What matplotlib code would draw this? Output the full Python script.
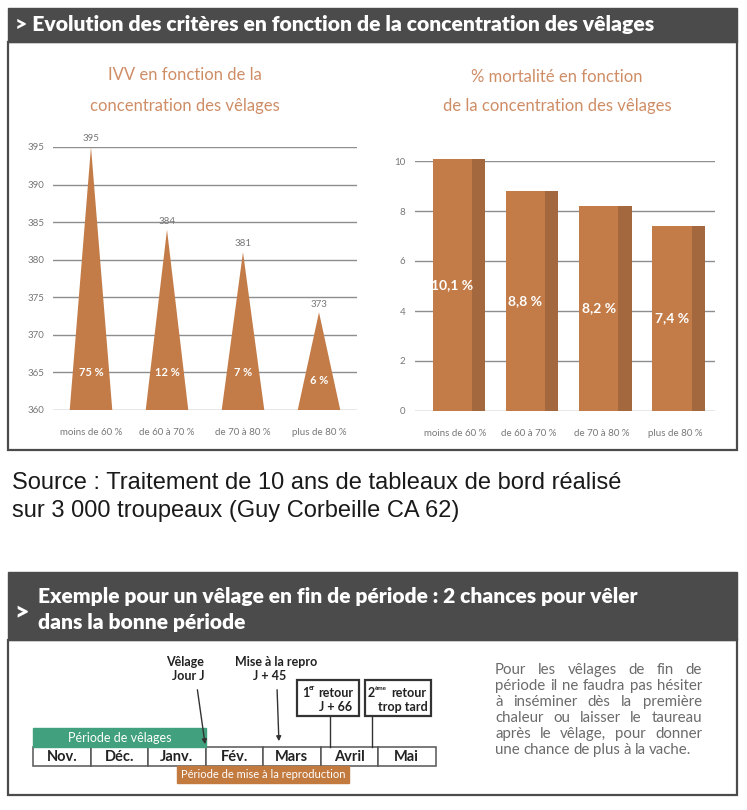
import matplotlib
matplotlib.use("Agg")
import matplotlib.pyplot as plt
from matplotlib import font_manager
from matplotlib.patches import Rectangle

# chart values
categories = ["moins de 60 %", "de 60 à 70 %", "de 70 à 80 %", "plus de 80 %"]
ivv_days = [395, 384, 381, 373]
ivv_share = ["75 %", "12 %", "7 %", "6 %"]
ivv_ticks = [360, 365, 370, 375, 380, 385, 390, 395]
mortality = [10.1, 8.8, 8.2, 7.4]
mortality_ticks = [0, 2, 4, 6, 8, 10]

months = ["Nov.", "Déc.", "Janv.", "Fév.", "Mars", "Avril", "Mai"]
para_lines = [
    "Pour les vêlages de fin de",
    "période il ne faudra pas hésiter",
    "à inséminer dès la première",
    "chaleur ou laisser le taureau",
    "après le vêlage, pour donner",
    "une chance de plus à la vache.",
]


def pick(names):
    for n in names:
        try:
            font_manager.findfont(n, fallback_to_default=False)
            return n
        except ValueError:
            pass
    return "DejaVu Sans"


body = pick(["Lato", "Open Sans", "DejaVu Sans"])
head = body
arial = pick(["Liberation Sans", "DejaVu Sans"])

W, H = 747, 810
fig = plt.figure(figsize=(W / 100, H / 100), dpi=100)
fig.patch.set_facecolor("white")

ov = fig.add_axes([0, 0, 1, 1])
ov.set_xlim(0, W)
ov.set_ylim(H, 0)
ov.axis("off")


def px_axes(x0, y0, x1, y1):
    a = fig.add_axes([x0 / W, 1 - y1 / H, (x1 - x0) / W, (y1 - y0) / H])
    a.patch.set_alpha(0)
    for s in a.spines.values():
        s.set_visible(False)
    return a


dark = "#4b4b4b"
tri_color = "#c37b47"
side_color = "#a4683f"
title_color = "#cf8d66"
grid_color = "#8e8e8e"
tick_color = "#777777"
ink = "#222222"

# ---- top panel
ov.add_patch(Rectangle((8, 8), 729, 34, color=dark))
ov.text(15, 25, "> Evolution des critères en fonction de la concentration des vêlages",
        color="white", fontsize=15.2, fontweight="heavy", family=head, va="center")
ov.add_patch(Rectangle((8, 42), 729, 408, fill=False, edgecolor=dark, lw=1.6))

# left chart: IVV
ov.text(185, 75, "IVV en fonction de la", color=title_color, fontsize=12,
        family=body, ha="center", va="center")
ov.text(185, 106, "concentration des vêlages", color=title_color, fontsize=12,
        family=body, ha="center", va="center")

ax1 = px_axes(53, 147, 357, 410)
ax1.set_xlim(-0.5, 3.5)
ax1.set_ylim(360, 395)
ax1.set_yticks(ivv_ticks)
ax1.yaxis.grid(True, color=grid_color, lw=1)
ax1.set_axisbelow(True)
ax1.set_xticks(range(len(categories)))
ax1.set_xticklabels(categories, family=body, fontsize=7, color=tick_color)
ax1.tick_params(axis="y", length=0, pad=6, labelsize=7, labelcolor=tick_color)
ax1.tick_params(axis="x", length=0, pad=13)
for lab in ax1.get_yticklabels():
    lab.set_family(body)
for i, v in enumerate(ivv_days):
    ax1.fill([i - 0.28, i, i + 0.28], [360, v, 360], color=tri_color, zorder=3, lw=0)
    ax1.text(i, v + 0.5, str(v), ha="center", va="bottom", fontsize=7,
             color=tick_color, family=body)
    ax1.text(i, 360 + min(5, (v - 360) * 0.3), ivv_share[i], ha="center", va="center",
             fontsize=8, color="white", fontweight="bold", family=body, zorder=4)

# right chart: mortality
ov.text(557, 77, "% mortalité en fonction", color=title_color, fontsize=12,
        family=body, ha="center", va="center")
ov.text(557, 106, "de la concentration des vêlages", color=title_color, fontsize=12,
        family=body, ha="center", va="center")

ax2 = px_axes(415, 161, 715, 411)
ax2.set_xlim(-0.55, 3.55)
ax2.set_ylim(0, 10)
ax2.set_yticks(mortality_ticks)
ax2.yaxis.grid(True, color=grid_color, lw=1)
ax2.set_axisbelow(True)
ax2.set_xticks(range(len(categories)))
ax2.set_xticklabels(categories, family=body, fontsize=7, color=tick_color)
ax2.tick_params(axis="y", length=0, pad=7, labelsize=7, labelcolor=tick_color)
ax2.tick_params(axis="x", length=0, pad=13)
for lab in ax2.get_yticklabels():
    lab.set_family(body)
xs = list(range(len(mortality)))
ax2.bar([x - 0.31 for x in xs], mortality, width=0.54, align="edge",
        color=tri_color, zorder=3, clip_on=False)
ax2.bar([x + 0.23 for x in xs], mortality, width=0.18, align="edge",
        color=side_color, zorder=3, clip_on=False)
for x, v in zip(xs, mortality):
    ax2.text(x - 0.04, v / 2, f"{v:.1f} %".replace(".", ","), ha="center", va="center",
             fontsize=10, color="white", fontweight="bold", family=body, zorder=4)

# ---- source
ov.text(12, 483, "Source : Traitement de 10 ans de tableaux de bord réalisé",
        fontsize=17, family=arial, va="center", color="#1a1a1a")
ov.text(12, 511, "sur 3 000 troupeaux (Guy Corbeille CA 62)",
        fontsize=17, family=arial, va="center", color="#1a1a1a")

# ---- bottom panel
ov.add_patch(Rectangle((8, 572), 729, 68, color=dark))
ov.text(14, 612, ">", color="white", fontsize=18, fontweight="heavy", family=head,
        va="center")
ov.text(38, 597, "Exemple pour un vêlage en fin de période : 2 chances pour vêler",
        color="white", fontsize=15.1, fontweight="heavy", family=head, va="center")
ov.text(38, 623, "dans la bonne période", color="white", fontsize=15.1,
        fontweight="heavy", family=head, va="center")
ov.add_patch(Rectangle((8, 640), 729, 155, fill=False, edgecolor=dark, lw=1.6))

# timeline
x0, cell, row_top, row_h = 33, 57.5, 747, 19
for k, m in enumerate(months):
    ov.add_patch(Rectangle((x0 + k * cell, row_top), cell, row_h, facecolor="white",
                           edgecolor="#555555", lw=1.1, zorder=2))
    ov.text(x0 + (k + 0.5) * cell, row_top + row_h / 2 + 0.5, m, ha="center",
            va="center", fontsize=10.5, fontweight="bold", family=body, color=ink,
            zorder=3)

ov.add_patch(Rectangle((x0, 728), 3 * cell, 19, color="#41a07d", zorder=2))
ov.text(x0 + 1.5 * cell, 737.5, "Période de vêlages", ha="center", va="center",
        fontsize=9, color="white", family=body, zorder=3)
ov.add_patch(Rectangle((x0 + 2.5 * cell, 766), 3 * cell, 17, color="#c27a3f", zorder=2))
ov.text(x0 + 4 * cell, 774.5, "Période de mise à la reproduction", ha="center",
        va="center", fontsize=8, color="white", family=body, zorder=3)

arrow = dict(arrowstyle="-|>", color="#333333", lw=1, mutation_scale=7)
ov.text(204, 662, "Vêlage", ha="right", va="center", fontsize=9, fontweight="bold",
        family=body, color=ink)
ov.text(204, 676, "Jour J", ha="right", va="center", fontsize=9, fontweight="bold",
        family=body, color=ink)
ov.annotate("", xy=(x0 + 3 * cell, row_top), xytext=(197, 687), arrowprops=arrow)

ov.text(276, 662, "Mise à la repro", ha="center", va="center", fontsize=9,
        fontweight="bold", family=body, color=ink)
ov.text(270, 676, "J + 45", ha="center", va="center", fontsize=9, fontweight="bold",
        family=body, color=ink)
ov.annotate("", xy=(279, row_top - 3), xytext=(277, 687), arrowprops=arrow)

for bx, bw in [(297, 62), (365, 66)]:
    ov.add_patch(Rectangle((bx, 680), bw, 36, fill=False, edgecolor="#333333", lw=1.6))
ov.text(302, 693, "1", ha="left", va="center", fontsize=9, fontweight="bold",
        family=body, color=ink)
ov.text(308.5, 688, "er", ha="left", va="center", fontsize=5, fontweight="bold",
        family=body, color=ink)
ov.text(353, 693, "retour", ha="right", va="center", fontsize=9, fontweight="bold",
        family=body, color=ink)
ov.text(352, 707, "J + 66", ha="right", va="center", fontsize=9, fontweight="bold",
        family=body, color=ink)
ov.text(368, 693, "2", ha="left", va="center", fontsize=9, fontweight="bold",
        family=body, color=ink)
ov.text(374.5, 688, "ème", ha="left", va="center", fontsize=4.5, fontweight="bold",
        family=body, color=ink)
ov.text(426, 693, "retour", ha="right", va="center", fontsize=9, fontweight="bold",
        family=body, color=ink)
ov.text(428, 707, "trop tard", ha="right", va="center", fontsize=9, fontweight="bold",
        family=body, color=ink)
ov.plot([330, 330], [716, row_top], color="#333333", lw=1)
ov.plot([372, 372], [716, row_top], color="#333333", lw=1)

# justified paragraph
renderer = fig.canvas.get_renderer()
para_x0, para_x1, para_top, para_step = 495, 702, 670, 16
for k, line in enumerate(para_lines):
    words = line.split()
    y = para_top + k * para_step
    items = [ov.text(0, y, w, fontsize=10.8, color="#6b6b6b", family=body, va="center")
             for w in words]
    widths = [t.get_window_extent(renderer).width for t in items]
    if k == len(para_lines) - 1:
        gap = 3.5
    else:
        gap = (para_x1 - para_x0 - sum(widths)) / (len(words) - 1)
    x = para_x0
    for t, w in zip(items, widths):
        t.set_x(x)
        x += w + gap

fig.savefig("out.png", dpi=100)
